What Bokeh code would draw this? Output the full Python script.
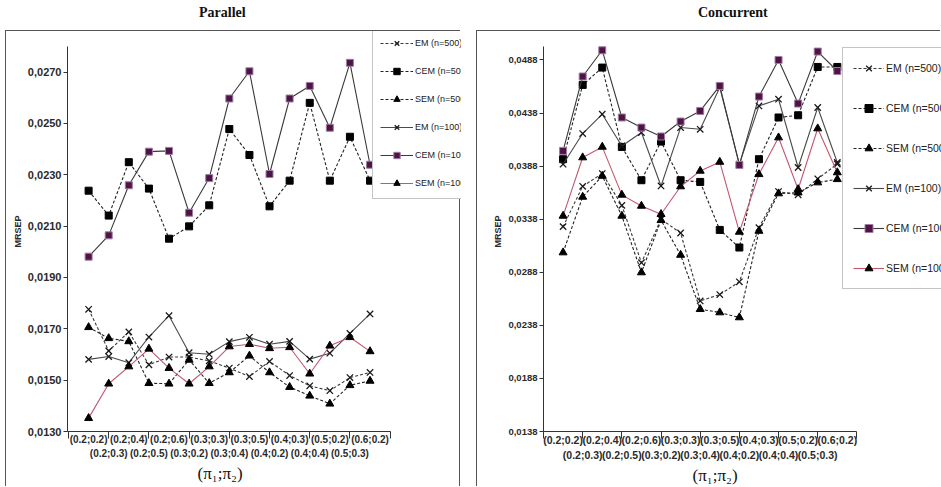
from bokeh.plotting import figure
from bokeh.models import (Range1d, FixedTicker, LinearAxis, Legend, LegendItem,
                          CustomJSTickFormatter, Div, Title)
from bokeh.layouts import row, column
from bokeh.embed import file_html
from bokeh.resources import INLINE

categories = ["(0.2;0.2)", "(0.2;0.3)", "(0.2;0.4)", "(0.2;0.5)", "(0.2;0.6)",
              "(0.3;0.2)", "(0.3;0.3)", "(0.3;0.4)", "(0.3;0.5)", "(0.4;0.2)",
              "(0.4;0.3)", "(0.4;0.4)", "(0.5;0.2)", "(0.5;0.3)", "(0.6;0.2)"]
series_names = ["EM (n=500)", "CEM (n=500)", "SEM (n=500)",
                "EM (n=100)", "CEM (n=100)", "SEM (n=100)"]

# Parallel panel
par_em500 = [0.01776, 0.01614, 0.01688, 0.01560, 0.01590, 0.01590, 0.01575, 0.01547,
             0.01514, 0.01573, 0.01518, 0.01478, 0.01459, 0.01510, 0.01530]
par_cem500 = [0.02238, 0.02141, 0.02349, 0.02246, 0.02051, 0.02099, 0.02181, 0.02478,
              0.02377, 0.02177, 0.02277, 0.02580, 0.02277, 0.02448, 0.02277]
par_sem500 = [0.01706, 0.01663, 0.01651, 0.01488, 0.01486, 0.01579, 0.01488, 0.01530,
              0.01595, 0.01530, 0.01473, 0.01439, 0.01408, 0.01480, 0.01497]
par_em100 = [0.01581, 0.01592, 0.01568, 0.01668, 0.01751, 0.01607, 0.01601, 0.01650,
             0.01667, 0.01640, 0.01651, 0.01582, 0.01605, 0.01682, 0.01758]
par_cem100 = [0.01981, 0.02064, 0.02259, 0.02390, 0.02393, 0.02152, 0.02287, 0.02597,
              0.02703, 0.02303, 0.02597, 0.02646, 0.02483, 0.02736, 0.02339]
par_sem100 = [0.01352, 0.01486, 0.01553, 0.01622, 0.01547, 0.01486, 0.01553, 0.01631,
              0.01640, 0.01624, 0.01628, 0.01525, 0.01634, 0.01667, 0.01612]

# Concurrent panel
con_em500 = [0.0331, 0.0369, 0.0381, 0.0351, 0.0297, 0.0338, 0.0325, 0.0261,
             0.0267, 0.0279, 0.0330, 0.0364, 0.0361, 0.0376, 0.0390]
con_cem500 = [0.03945, 0.04645, 0.04808, 0.04061, 0.03747, 0.04111, 0.03747, 0.03731,
              0.03279, 0.03113, 0.03945, 0.04338, 0.04359, 0.04814, 0.04814]
con_sem500 = [0.03066, 0.03590, 0.03787, 0.03411, 0.02878, 0.03370, 0.03043, 0.02532,
              0.02501, 0.02454, 0.03269, 0.03622, 0.03630, 0.03725, 0.03756]
con_em100 = [0.03898, 0.04187, 0.04369, 0.04070, 0.04196, 0.03693, 0.04243, 0.04227,
             0.04620, 0.03898, 0.04447, 0.04510, 0.03867, 0.04432, 0.03914]
con_cem100 = [0.04023, 0.04724, 0.04971, 0.04338, 0.04243, 0.04159, 0.04300, 0.04400,
              0.04635, 0.03891, 0.04535, 0.04880, 0.04469, 0.04959, 0.04776]
con_sem100 = [0.03411, 0.03961, 0.04061, 0.03609, 0.03505, 0.03427, 0.03688, 0.03835,
              0.03919, 0.03260, 0.03803, 0.04149, 0.03662, 0.04234, 0.03820]

par_y_ticks = [0.0130, 0.0150, 0.0170, 0.0190, 0.0210, 0.0230, 0.0250, 0.0270]
con_y_ticks = [0.0138, 0.0188, 0.0238, 0.0288, 0.0338, 0.0388, 0.0438, 0.0488]
x_label = "(π₁;π₂)"
y_label = "MRSEP"

# style per series: line colour, dash, marker, size, fill, marker line colour
STYLES = [
    ("#3a3a3a", "3 2", "x", 9, None, "#1a1a1a"),
    ("#222222", "3 2", "square", 7, "#000000", "#000000"),
    ("#222222", "3 2", "triangle", 8, "#000000", "#000000"),
    ("#4a4a4a", "solid", "x", 9, None, "#1a1a1a"),
    ("#3a3a3a", "solid", "square", 7, "#4e1446", "#a27ca2"),
    ("#c4566e", "solid", "triangle", 8, "#000000", "#000000"),
]

TICK_FONT = "Liberation Sans"


def make_panel(series, y_ticks, cfg):
    xs = list(range(len(categories)))
    even = xs[0::2]
    odd = xs[1::2]
    edges = [-1] + [x + 1 for x in even]

    p = figure(width=cfg["w"], height=cfg["h"],
               x_range=Range1d(cfg["x0"], cfg["x1"]),
               y_range=Range1d(cfg["y0"], cfg["y1"]),
               output_backend="svg", toolbar_location=None, tools="",
               min_border_left=cfg["bl"], min_border_right=0,
               min_border_top=0, min_border_bottom=cfg["bb"])
    p.grid.visible = False
    p.outline_line_color = None
    p.background_fill_color = "white"
    p.border_fill_color = "white"

    ya = p.yaxis[0]
    ya.ticker = FixedTicker(ticks=y_ticks, minor_ticks=[])
    ya.formatter = CustomJSTickFormatter(code="return tick.toFixed(4).replace('.', ',');")
    ya.bounds = (cfg["y0"], cfg["ytop"])
    ya.major_tick_out = 4
    ya.major_tick_in = 0
    ya.minor_tick_line_color = None
    ya.axis_line_color = "#333333"
    ya.major_tick_line_color = "#333333"
    ya.major_label_text_font = TICK_FONT
    ya.major_label_text_font_style = "bold"
    ya.major_label_text_font_size = cfg["yfs"]
    ya.major_label_text_color = "#2a2a2a"
    ya.major_label_standoff = 2
    ya.axis_label = y_label
    ya.axis_label_text_font = TICK_FONT
    ya.axis_label_text_font_style = "bold"
    ya.axis_label_text_font_size = "9px"
    ya.axis_label_text_color = "#2a2a2a"
    ya.axis_label_standoff = 2

    xa = p.xaxis[0]
    xa.ticker = FixedTicker(ticks=even, minor_ticks=edges)
    xa.bounds = (cfg["x0"], cfg["xend"])
    xa.major_label_overrides = {x: categories[x] for x in even}
    xa.major_tick_out = 0
    xa.major_tick_in = 0
    xa.minor_tick_out = 7
    xa.minor_tick_in = 0
    xa.minor_tick_line_color = "#333333"
    xa.axis_line_color = "#333333"
    xa.major_label_standoff = -5
    xa.major_label_text_font = TICK_FONT
    xa.major_label_text_font_style = "bold"
    xa.major_label_text_font_size = cfg["xfs"]
    xa.major_label_text_color = "#2a2a2a"

    xb = LinearAxis(ticker=FixedTicker(ticks=odd, minor_ticks=[]))
    xb.bounds = cfg["xbb"]
    xb.major_label_overrides = {x: categories[x] for x in odd}
    xb.axis_line_color = None
    xb.major_tick_line_color = None
    xb.minor_tick_line_color = None
    xb.major_tick_out = 0
    xb.major_tick_in = 0
    xb.major_label_standoff = 0
    xb.major_label_text_font = TICK_FONT
    xb.major_label_text_font_style = "bold"
    xb.major_label_text_font_size = cfg["xfs"]
    xb.major_label_text_color = "#2a2a2a"
    p.add_layout(xb, "below")

    # x-axis caption, offset to sit where the original places it
    cap = Title(text=x_label, align="left", offset=cfg["toff"],
                text_font="Liberation Serif", text_font_style="normal",
                text_font_size="17px", text_color="#111111")
    props = Title.properties()
    if "standoff" in props:
        cap.standoff = 0
    if "padding" in props:
        cap.padding = 0
    p.add_layout(cap, "below")

    items = []
    for name, vals, st in zip(series_names, series, STYLES):
        lc, dash, marker, size, fill, mlc = st
        lr = p.line(xs, vals, line_color=lc, line_dash=dash, line_width=1.1)
        sr = p.scatter(xs, vals, marker=marker, size=size,
                       fill_color=fill, line_color=mlc,
                       line_width=1.3 if marker == "x" else 1.0)
        items.append(LegendItem(label=name, renderers=[lr, sr]))

    lg = Legend(items=items, location=cfg["lloc"], orientation="vertical",
                label_text_font=TICK_FONT, label_text_font_size=cfg["lfs"],
                label_text_color="#222222",
                glyph_width=cfg["gw"], glyph_height=cfg["ih"], label_height=cfg["ih"],
                spacing=cfg["sp"], padding=cfg["pad"], margin=0, label_standoff=2,
                border_line_color="#8a8a8a", border_line_width=1,
                background_fill_color="white", background_fill_alpha=1.0)
    p.add_layout(lg)
    p.styles = cfg["box"]
    p.margin = cfg["margin"]
    return p


def title_div(text, width, pad):
    return Div(text=('<div style="padding-left:%dpx;font-family:\'Liberation Serif\';'
                     'font-weight:bold;font-size:14px;line-height:15px;color:#111;">%s</div>'
                     % (pad, text)), width=width, height=20)


left_cfg = dict(w=455, h=456, bl=61, bb=56, x0=-1.05, x1=18.55, xend=15.0,
                xbb=(-1.05, 14.17), y0=0.0130, y1=0.02858, ytop=0.0280, toff=130,
                yfs="11px", xfs="10px", lfs="9px", lloc=(305, 232),
                gw=33, ih=16, sp=12, pad=7, margin=(0, 0, 0, 5),
                box={"border-top": "1px solid #555", "border-left": "1px solid #555",
                     "border-right": "1px solid #555"})
right_cfg = dict(w=464, h=456, bl=66, bb=56, x0=-1.0, x1=19.32, xend=15.0,
                 xbb=(-1.0, 16.5), y0=0.0138, y1=0.05148, ytop=0.0501, toff=149,
                 yfs="9.5px", xfs="10.5px", lfs="10.5px", lloc=(299, 142),
                 gw=31, ih=20, sp=20, pad=10, margin=(0, 0, 0, 0),
                 box={"border-top": "1px solid #555", "border-left": "1px solid #555"})

p1 = make_panel([par_em500, par_cem500, par_sem500, par_em100, par_cem100, par_sem100],
                par_y_ticks, left_cfg)
p2 = make_panel([con_em500, con_cem500, con_sem500, con_em100, con_cem100, con_sem100],
                con_y_ticks, right_cfg)

t1 = title_div("Parallel", 450, 194)
t2 = title_div("Concurrent", 450, 217)

layout = row(column(t1, p1), column(t2, p2), spacing=16)
open("out.html", "w").write(file_html(layout, INLINE))
